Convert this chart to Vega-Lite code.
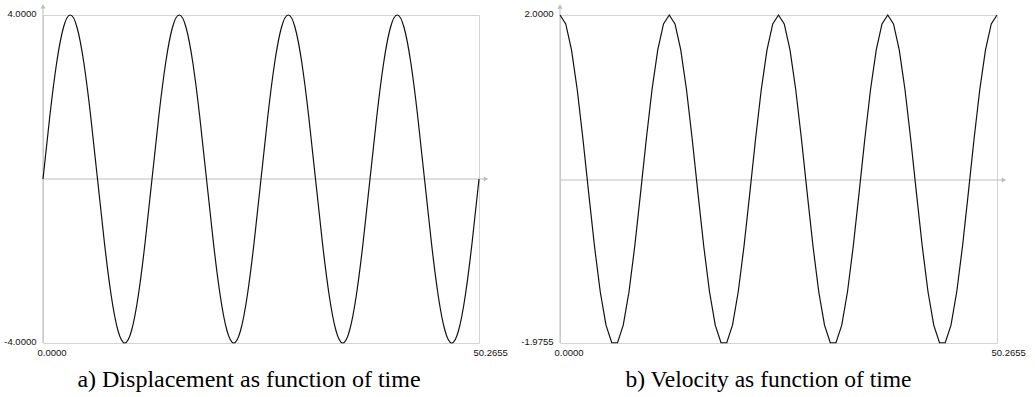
{
  "$schema": "https://vega.github.io/schema/vega-lite/v6.json",
  "padding": {"left": 3, "top": 4, "right": 5, "bottom": 0},
  "bounds": "flush",
  "spacing": 81,
  "background": "white",
  "config": {
    "view": {"stroke": null},
    "axis": {"labelFont": "Liberation Sans", "labelFontSize": 9.5, "labelColor": "#111", "domain": false, "ticks": false, "title": null, "grid": true, "gridColor": "#d4d4d4", "gridWidth": 1, "labelFlush": false, "labelOverlap": false, "labelBound": false}
  },
  "datasets": {
    "disp": [
      {"t": 0, "x": 0}, {"t": 0.7854, "x": 1.5307}, {"t": 1.5708, "x": 2.8284}, {"t": 2.3562, "x": 3.6955},
      {"t": 3.1416, "x": 4}, {"t": 3.927, "x": 3.6955}, {"t": 4.7124, "x": 2.8284}, {"t": 5.4978, "x": 1.5307},
      {"t": 6.2832, "x": 0}, {"t": 7.0686, "x": -1.5307}, {"t": 7.854, "x": -2.8284}, {"t": 8.6394, "x": -3.6955},
      {"t": 9.4248, "x": -4}, {"t": 10.2102, "x": -3.6955}, {"t": 10.9956, "x": -2.8284}, {"t": 11.781, "x": -1.5307},
      {"t": 12.5664, "x": 0}, {"t": 13.3518, "x": 1.5307}, {"t": 14.1372, "x": 2.8284}, {"t": 14.9226, "x": 3.6955},
      {"t": 15.708, "x": 4}, {"t": 16.4934, "x": 3.6955}, {"t": 17.2788, "x": 2.8284}, {"t": 18.0642, "x": 1.5307},
      {"t": 18.8496, "x": 0}, {"t": 19.635, "x": -1.5307}, {"t": 20.4204, "x": -2.8284}, {"t": 21.2058, "x": -3.6955},
      {"t": 21.9911, "x": -4}, {"t": 22.7765, "x": -3.6955}, {"t": 23.5619, "x": -2.8284}, {"t": 24.3473, "x": -1.5307},
      {"t": 25.1327, "x": 0}, {"t": 25.9181, "x": 1.5307}, {"t": 26.7035, "x": 2.8284}, {"t": 27.4889, "x": 3.6955},
      {"t": 28.2743, "x": 4}, {"t": 29.0597, "x": 3.6955}, {"t": 29.8451, "x": 2.8284}, {"t": 30.6305, "x": 1.5307},
      {"t": 31.4159, "x": 0}, {"t": 32.2013, "x": -1.5307}, {"t": 32.9867, "x": -2.8284}, {"t": 33.7721, "x": -3.6955},
      {"t": 34.5575, "x": -4}, {"t": 35.3429, "x": -3.6955}, {"t": 36.1283, "x": -2.8284}, {"t": 36.9137, "x": -1.5307},
      {"t": 37.6991, "x": 0}, {"t": 38.4845, "x": 1.5307}, {"t": 39.2699, "x": 2.8284}, {"t": 40.0553, "x": 3.6955},
      {"t": 40.8407, "x": 4}, {"t": 41.6261, "x": 3.6955}, {"t": 42.4115, "x": 2.8284}, {"t": 43.1969, "x": 1.5307},
      {"t": 43.9823, "x": 0}, {"t": 44.7677, "x": -1.5307}, {"t": 45.5531, "x": -2.8284}, {"t": 46.3385, "x": -3.6955},
      {"t": 47.1239, "x": -4}, {"t": 47.9093, "x": -3.6955}, {"t": 48.6947, "x": -2.8284}, {"t": 49.4801, "x": -1.5307},
      {"t": 50.2655, "x": 0}
    ],
    "vel": [
      {"t": 0, "v": 2}, {"t": 0.6614, "v": 1.8916}, {"t": 1.3228, "v": 1.5783}, {"t": 1.9842, "v": 1.0939},
      {"t": 2.6456, "v": 0.491}, {"t": 3.3069, "v": -0.1652}, {"t": 3.9683, "v": -0.8034}, {"t": 4.6297, "v": -1.3546},
      {"t": 5.2911, "v": -1.759}, {"t": 5.9525, "v": -1.9727}, {"t": 6.6139, "v": -1.9727}, {"t": 7.2753, "v": -1.759},
      {"t": 7.9367, "v": -1.3546}, {"t": 8.598, "v": -0.8034}, {"t": 9.2594, "v": -0.1652}, {"t": 9.9208, "v": 0.491},
      {"t": 10.5822, "v": 1.0939}, {"t": 11.2436, "v": 1.5783}, {"t": 11.905, "v": 1.8916}, {"t": 12.5664, "v": 2},
      {"t": 13.2278, "v": 1.8916}, {"t": 13.8891, "v": 1.5783}, {"t": 14.5505, "v": 1.0939}, {"t": 15.2119, "v": 0.491},
      {"t": 15.8733, "v": -0.1652}, {"t": 16.5347, "v": -0.8034}, {"t": 17.1961, "v": -1.3546}, {"t": 17.8575, "v": -1.759},
      {"t": 18.5189, "v": -1.9727}, {"t": 19.1802, "v": -1.9727}, {"t": 19.8416, "v": -1.759}, {"t": 20.503, "v": -1.3546},
      {"t": 21.1644, "v": -0.8034}, {"t": 21.8258, "v": -0.1652}, {"t": 22.4872, "v": 0.491}, {"t": 23.1486, "v": 1.0939},
      {"t": 23.81, "v": 1.5783}, {"t": 24.4714, "v": 1.8916}, {"t": 25.1327, "v": 2}, {"t": 25.7941, "v": 1.8916},
      {"t": 26.4555, "v": 1.5783}, {"t": 27.1169, "v": 1.0939}, {"t": 27.7783, "v": 0.491}, {"t": 28.4397, "v": -0.1652},
      {"t": 29.1011, "v": -0.8034}, {"t": 29.7625, "v": -1.3546}, {"t": 30.4238, "v": -1.759}, {"t": 31.0852, "v": -1.9727},
      {"t": 31.7466, "v": -1.9727}, {"t": 32.408, "v": -1.759}, {"t": 33.0694, "v": -1.3546}, {"t": 33.7308, "v": -0.8034},
      {"t": 34.3922, "v": -0.1652}, {"t": 35.0536, "v": 0.491}, {"t": 35.7149, "v": 1.0939}, {"t": 36.3763, "v": 1.5783},
      {"t": 37.0377, "v": 1.8916}, {"t": 37.6991, "v": 2}, {"t": 38.3605, "v": 1.8916}, {"t": 39.0219, "v": 1.5783},
      {"t": 39.6833, "v": 1.0939}, {"t": 40.3447, "v": 0.491}, {"t": 41.006, "v": -0.1652}, {"t": 41.6674, "v": -0.8034},
      {"t": 42.3288, "v": -1.3546}, {"t": 42.9902, "v": -1.759}, {"t": 43.6516, "v": -1.9727}, {"t": 44.313, "v": -1.9727},
      {"t": 44.9744, "v": -1.759}, {"t": 45.6358, "v": -1.3546}, {"t": 46.2972, "v": -0.8034}, {"t": 46.9585, "v": -0.1652},
      {"t": 47.6199, "v": 0.491}, {"t": 48.2813, "v": 1.0939}, {"t": 48.9427, "v": 1.5783}, {"t": 49.6041, "v": 1.8916},
      {"t": 50.2655, "v": 2}
    ]
  },
  "hconcat": [
    {
      "width": 436,
      "height": 328,
      "title": {"text": "a) Displacement as function of time", "orient": "bottom", "frame": "group", "anchor": "middle", "dx": -12, "offset": 11, "font": "Liberation Serif", "fontSize": 24, "fontWeight": "normal", "color": "#000"},
      "layer": [
        {
          "data": {"values": [{}]},
          "mark": {"type": "rule", "color": "#bdbdbd", "strokeWidth": 1},
          "encoding": {"x": {"datum": 0, "type": "quantitative"}, "y": {"datum": -4, "type": "quantitative"}, "y2": {"datum": 4.21}}
        },
        {
          "data": {"values": [{}]},
          "mark": {"type": "point", "shape": "triangle-up", "filled": true, "size": 25, "opacity": 1, "color": "#bdbdbd"},
          "encoding": {"x": {"datum": 0, "type": "quantitative"}, "y": {"datum": 4.21, "type": "quantitative"}}
        },
        {
          "data": {"values": [{}]},
          "mark": {"type": "rule", "color": "#bdbdbd", "strokeWidth": 1},
          "encoding": {"y": {"datum": 0, "type": "quantitative"}, "x": {"datum": 0, "type": "quantitative"}, "x2": {"datum": 51.07}}
        },
        {
          "data": {"values": [{}]},
          "mark": {"type": "point", "shape": "triangle-right", "filled": true, "size": 25, "opacity": 1, "color": "#bdbdbd"},
          "encoding": {"x": {"datum": 51.07, "type": "quantitative"}, "y": {"datum": 0, "type": "quantitative"}}
        },
        {
          "data": {"name": "disp"},
          "mark": {"type": "line", "color": "#111", "strokeWidth": 1.2, "interpolate": "natural"},
          "encoding": {
            "x": {"field": "t", "type": "quantitative", "scale": {"domain": [0, 50.2655], "nice": false, "zero": false},
              "axis": {"values": [0, 50.2655], "format": ".4f", "labelAlign": "left", "labelOffset": -6, "labelPadding": 4}},
            "y": {"field": "x", "type": "quantitative", "scale": {"domain": [-4, 4], "nice": false, "zero": false},
              "axis": {"values": [-4, 4], "labelExpr": "datum.value < 0 ? '-4.0000' : '4.0000'", "labelPadding": 7, "labelBaseline": "middle", "labelOffset": -2}}
          }
        }
      ]
    },
    {
      "width": 437,
      "height": 328,
      "title": {"text": "b) Velocity as function of time", "orient": "bottom", "frame": "group", "anchor": "middle", "dx": -10, "offset": 11, "font": "Liberation Serif", "fontSize": 23.5, "fontWeight": "normal", "color": "#000"},
      "layer": [
        {
          "data": {"values": [{}]},
          "mark": {"type": "rule", "color": "#bdbdbd", "strokeWidth": 1},
          "encoding": {"x": {"datum": 0, "type": "quantitative"}, "y": {"datum": -1.9755, "type": "quantitative"}, "y2": {"datum": 2.103}}
        },
        {
          "data": {"values": [{}]},
          "mark": {"type": "point", "shape": "triangle-up", "filled": true, "size": 25, "opacity": 1, "color": "#bdbdbd"},
          "encoding": {"x": {"datum": 0, "type": "quantitative"}, "y": {"datum": 2.103, "type": "quantitative"}}
        },
        {
          "data": {"values": [{}]},
          "mark": {"type": "rule", "color": "#bdbdbd", "strokeWidth": 1},
          "encoding": {"y": {"datum": 0, "type": "quantitative"}, "x": {"datum": 0, "type": "quantitative"}, "x2": {"datum": 51.07}}
        },
        {
          "data": {"values": [{}]},
          "mark": {"type": "point", "shape": "triangle-right", "filled": true, "size": 25, "opacity": 1, "color": "#bdbdbd"},
          "encoding": {"x": {"datum": 51.07, "type": "quantitative"}, "y": {"datum": 0, "type": "quantitative"}}
        },
        {
          "data": {"name": "vel"},
          "mark": {"type": "line", "color": "#111", "strokeWidth": 1.2},
          "encoding": {
            "x": {"field": "t", "type": "quantitative", "scale": {"domain": [0, 50.2655], "nice": false, "zero": false},
              "axis": {"values": [0, 50.2655], "format": ".4f", "labelAlign": "left", "labelOffset": -6, "labelPadding": 4}},
            "y": {"field": "v", "type": "quantitative", "scale": {"domain": [-1.9755, 2], "nice": false, "zero": false},
              "axis": {"values": [-1.9755, 2], "labelExpr": "datum.value < 0 ? '-1.9755' : '2.0000'", "labelPadding": 7, "labelBaseline": "middle", "labelOffset": -2}}
          }
        }
      ]
    }
  ]
}
